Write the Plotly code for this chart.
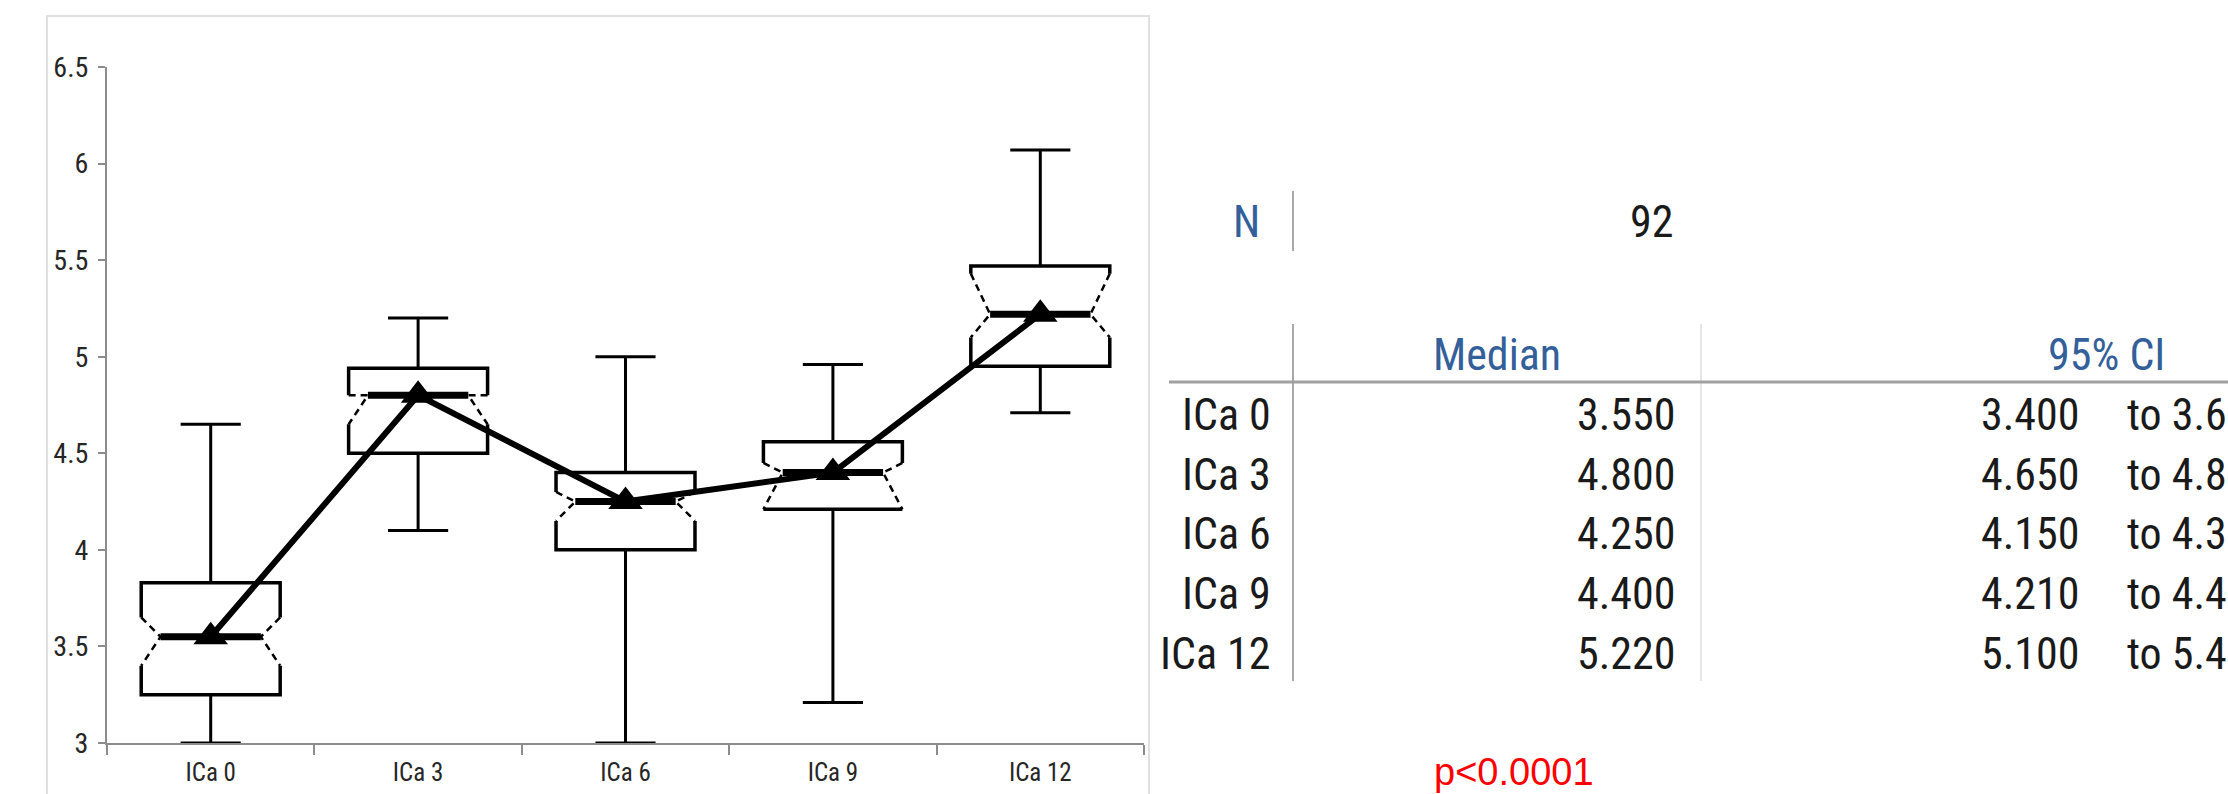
import plotly.graph_objects as go

# ---------------- data ----------------
categories = ["ICa 0", "ICa 3", "ICa 6", "ICa 9", "ICa 12"]
lower_whisker = [3.00, 4.10, 3.00, 3.21, 4.71]
q1 = [3.25, 4.50, 4.00, 4.21, 4.95]
median = [3.55, 4.80, 4.25, 4.40, 5.22]
q3 = [3.83, 4.94, 4.40, 4.56, 5.47]
upper_whisker = [4.65, 5.20, 5.00, 4.96, 6.07]
ci_low = [3.400, 4.650, 4.150, 4.210, 5.100]
ci_high = [3.650, 4.800, 4.300, 4.450, 5.430]
n_obs = 92
p_text = "p<0.0001"
y_ticks = [3, 3.5, 4, 4.5, 5, 5.5, 6, 6.5]
y_tick_labels = ["3", "3.5", "4", "4.5", "5", "5.5", "6", "6.5"]

# ---------------- style / layout constants ----------------
W, H = 2228, 794
PL, PR, PT, PB = 107, 1144, 67, 743     # plot area in pixels
BOX_HW, NOTCH_HW, CAP_HW = 0.335, 0.242, 0.145
AXIS_GREY = "#8c8c8c"
NARROW = "Liberation Sans Narrow, Arial Narrow, Roboto Condensed, Roboto, sans-serif"
BLUE = "#33609a"


def px(xp):
    return (xp - PL) / (PR - PL)


def py(yp):
    return (PB - yp) / (PB - PT)


solid_x, solid_y, dash_x, dash_y = [], [], [], []
med_x, med_y, wh_x, wh_y = [], [], [], []
for i in range(len(categories)):
    l, r = i - BOX_HW, i + BOX_HW
    nl, nr = i - NOTCH_HW, i + NOTCH_HW
    solid_x += [l, l, r, r, None]
    solid_y += [ci_high[i], q3[i], q3[i], ci_high[i], None]
    solid_x += [l, l, r, r, None]
    solid_y += [ci_low[i], q1[i], q1[i], ci_low[i], None]
    dash_x += [l, nl, l, None, r, nr, r, None]
    dash_y += [ci_high[i], median[i], ci_low[i], None, ci_high[i], median[i], ci_low[i], None]
    med_x += [nl, nr, None]
    med_y += [median[i], median[i], None]
    wh_x += [i, i, None, i - CAP_HW, i + CAP_HW, None,
             i, i, None, i - CAP_HW, i + CAP_HW, None]
    wh_y += [q3[i], upper_whisker[i], None, upper_whisker[i], upper_whisker[i], None,
             q1[i], lower_whisker[i], None, lower_whisker[i], lower_whisker[i], None]

xs = list(range(len(categories)))
fig = go.Figure()
fig.add_trace(go.Scatter(x=wh_x, y=wh_y, mode="lines", line=dict(color="black", width=3),
                         hoverinfo="skip", cliponaxis=False))
fig.add_trace(go.Scatter(x=solid_x, y=solid_y, mode="lines", line=dict(color="black", width=3.5),
                         hoverinfo="skip"))
fig.add_trace(go.Scatter(x=dash_x, y=dash_y, mode="lines",
                         line=dict(color="black", width=2.5, dash="7px,5px"), hoverinfo="skip"))
fig.add_trace(go.Scatter(x=med_x, y=med_y, mode="lines", line=dict(color="black", width=7),
                         hoverinfo="skip"))
fig.add_trace(go.Scatter(x=xs, y=median, mode="lines+markers",
                         line=dict(color="black", width=6),
                         marker=dict(symbol="triangle-up", size=30, color="black"),
                         hoverinfo="skip"))

shapes = []
shapes.append(dict(type="rect", xref="paper", yref="paper", x0=px(47), x1=px(1149), y0=py(810), y1=py(16),
                   line=dict(color="#e0e0e0", width=2), layer="below"))
shapes.append(dict(type="line", xref="paper", yref="paper", x0=px(1293), x1=px(1293), y0=py(191), y1=py(251),
                   line=dict(color="#8a8a8a", width=1.5)))
shapes.append(dict(type="line", xref="paper", yref="paper", x0=px(1293), x1=px(1293), y0=py(324), y1=py(681),
                   line=dict(color="#8a8a8a", width=1.5)))
shapes.append(dict(type="line", xref="paper", yref="paper", x0=px(1701), x1=px(1701), y0=py(324), y1=py(681),
                   line=dict(color="#dcdcdc", width=1.5)))
shapes.append(dict(type="line", xref="paper", yref="paper", x0=px(1169), x1=px(2240), y0=py(382), y1=py(382),
                   line=dict(color="#a0a0a0", width=3)))

ann = []
TS = 44


def txt(t, x, y, anchor, color="#1a1a1a", size=TS, family=NARROW):
    ann.append(dict(text=t, xref="paper", yref="paper", x=px(x), y=py(y), xanchor=anchor, yanchor="middle",
                    showarrow=False, font=dict(family=family, size=size, color=color)))


txt("N", 1262, 222, "right", color=BLUE)
txt(str(n_obs), 1675, 222, "right")
txt("Median", 1497, 355, "center", color=BLUE)
txt("95% CI", 2106, 355, "center", color=BLUE)
for k, cat in enumerate(categories):
    yy = 415 + k * 59.7
    txt(cat, 1273, yy, "right")
    txt(f"{median[k]:.3f}", 1677, yy, "right")
    txt(f"{ci_low[k]:.3f}", 2081, yy, "right")
    # the reference image cuts this column at its right edge: only "to x.x" is visible
    txt(f"to {ci_high[k]:.3f}"[:6], 2125, yy, "left")
txt(p_text, 1514, 772, "center", color="#ff0000", size=38, family="Liberation Sans, Arial, sans-serif")

fig.update_layout(
    width=W, height=H, autosize=False,
    margin=dict(l=PL, r=W - PR, t=PT, b=H - PB, pad=0, autoexpand=False),
    paper_bgcolor="white", plot_bgcolor="white",
    showlegend=False,
    shapes=shapes, annotations=ann,
    xaxis=dict(range=[-0.5, len(categories) - 0.5], tickmode="array", tickvals=xs, ticktext=categories,
               ticks="outside", ticklen=10, tickcolor="rgba(0,0,0,0)",
               minor=dict(tickmode="array", tickvals=[i - 0.5 for i in range(len(categories) + 1)],
                          ticks="outside", ticklen=10, tickwidth=2, tickcolor=AXIS_GREY),
               showline=True, linecolor=AXIS_GREY, linewidth=2, showgrid=False, zeroline=False,
               layer="below traces", ticklabelstandoff=-4, automargin=False,
               tickfont=dict(family=NARROW, size=25, color="#262626"), fixedrange=True),
    yaxis=dict(range=[3, 6.5], tickmode="array", tickvals=y_ticks, ticktext=y_tick_labels,
               ticks="outside", ticklen=7, tickwidth=2, tickcolor=AXIS_GREY,
               showline=True, linecolor=AXIS_GREY, linewidth=2, showgrid=False, zeroline=False,
               layer="below traces", ticklabelstandoff=4, automargin=False,
               tickfont=dict(family=NARROW, size=28, color="#262626"), fixedrange=True),
)

fig.write_html("out.html", config={"displayModeBar": False},
               post_script="document.body.style.margin='0px';document.body.style.overflow='hidden';")
